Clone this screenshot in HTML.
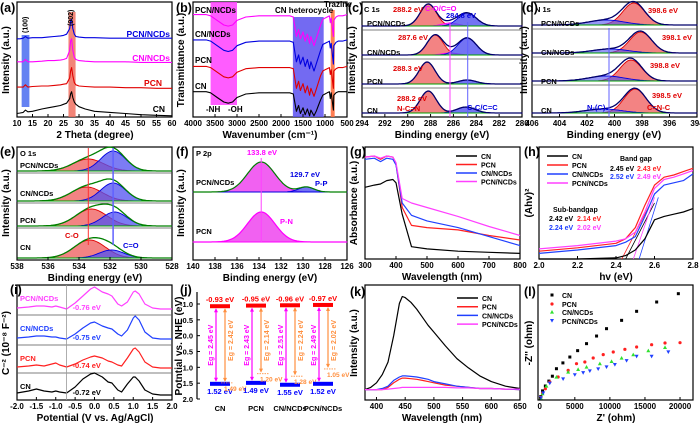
<!DOCTYPE html>
<html><head><meta charset="utf-8"><style>
html,body{margin:0;padding:0;background:#fff;}
svg{display:block;font-family:"Liberation Sans",Arial,sans-serif;font-weight:bold;}
</style></head><body>
<svg id="fig" width="700" height="424" viewBox="0 0 700 424" xmlns="http://www.w3.org/2000/svg"></svg>
<script>
// ---------- data ----------
const xrdX=[10,11,12,12.7,13.5,15,18,20,22,24,25,26,27,27.3,27.6,28,28.5,29,30,32,35,40,45,50,55,60];
const xrdCN=[3,3.5,4,6,4.5,5,7,8,9,10,11,12,16,20,22,17,13,11,9,7,5,4,3,2,1.5,1];
const xrdPCN=[26,26,26,28,26,26.5,27,27,27.5,28,28.5,29,34,40,43,36,30,28,27,26.5,26,26,25.5,25.5,25,25];
const xrdCNN=[48,48,48,50,48,48,48.5,49,49,49.5,50,51,58,66,68,58,52,50,49,48.5,48,48,48,47.5,47.5,47.5];
const xrdPCNN=[68,68,68.5,70,68.5,69,69,69.5,70,70.5,71,72,77,83,85,77,72,70,69.5,69,69,68.5,68.5,68.5,68.5,68.5];
const xrdTicks=[10,15,20,25,30,35,40,45,50,55,60];

const irX=[4000,3700,3600,3450,3300,3200,3100,3000,2800,2500,2000,1800,1720,1650,1600,1560,1500,1450,1400,1350,1320,1250,1200,1150,1100,1050,1000,950,900,880,860,810,800,750,700,600,500];
const irPCNN=[89,89,88,84,80,79,80,84,87,88,88,88,87,70,76,68,74,66,72,64,70,62,68,74,80,85,86,87,88,82,86,70,84,87,88,88,89];
const irCNN=[67,67,66,62,58,57,58,62,65,66,66,66,65,48,54,46,52,44,50,42,48,40,46,52,58,63,64,65,66,60,64,46,62,65,66,66,67];
const irPCN=[44,44,43,39,35,34,35,39,42,43,43,43,42,25,31,23,29,21,27,19,25,18,24,30,36,40,41,42,43,37,41,25,40,42,43,43,44];
const irCN=[22,22,21,17,13,12,13,17,20,21,21,21,20,5,10,3,8,2,7,1,6,1,5,10,15,19,20,21,22,16,21,6,19,21,22,22,22];
const irTicks=[4000,3500,3000,2500,2000,1500,1000,500];

const sampleNames=["PCN/NCDs","CN/NCDs","PCN","CN"];
const c1sRedPos=[288.2,287.6,288.3,288.2], c1sRedAmp=[22,20,22,22];
const c1sBluePos=[284.8,284.8,284.8,284.9], c1sBlueAmp=[13,17,4,6];
const c1sPinkPos=[286.3,286.3,286.3,286.3], c1sPinkAmp=[3,2,0,0];
const c1sTicks=[294,292,290,288,286,284,282,280];
const n1sRedPos=[398.6,398.1,398.8,398.5], n1sRedAmp=[22,21,21,24];
const n1sBluePos=[400.6,400.3,400.6,400.8], n1sBlueAmp=[5,4,5,4];
const n1sTicks=[406,404,402,400,398,396,394];
const o1sRedPos=[533.4,533.5,533.2,533.3], o1sRedAmp=[12,14,17,18];
const o1sBluePos=[531.8,531.8,531.7,531.9], o1sBlueAmp=[20,18,14,8];
const o1sTicks=[538,536,534,532,530,528];
const p2pPos=[133.8,129.7], p2pTopAmp=[30,5], p2pBotAmp=[30,0];
const p2pTicks=[140,138,136,134,132,130,128,126];

const uvX=[300,330,350,370,390,400,420,450,500,600,700,800];
const uvCN=[64,66,67,70,71,68,40,11,9,7,6,5];
const uvPCN=[91,92,89,92,91,85,46,30,28,26,21,17];
const uvCNN=[89,90,87,90,89,84,50,39,34,28,20,12];
const uvPCNN=[91,92,90,92,91,86,54,50,46,38,29,21];
const uvTicks=[300,400,500,600,700,800];

const tcX=[2.0,2.2,2.4,2.45,2.5,2.55,2.6,2.65,2.7,2.75,2.8];
const tcCN=[0,0,1,3,8,18,35,38,40,42,45];
const tcPCN=[7,10,14,18,28,48,66,73,75,78,81];
const tcCNN=[5,8,12,15,20,38,58,66,68,70,76];
const tcPCNN=[9,12,16,18,24,42,63,71,73,76,79];
const tcTicks=[2.0,2.2,2.4,2.6,2.8];

const msX=[-2,-1.7,-1.5,-1.3,-1.1,-1,-0.9,-0.72,-0.5,-0.3,-0.1,0,0.2,0.35,0.45,0.6,0.7,0.85,1.0,1.05,1.15,1.3,1.5,1.7,2];
const msPCNN=[4,5,6,6,5,6,5,3,9,16,23,25,20,18,16,8,6,10,20,21,18,8,4,3,3];
const msCNN=[4,5,6,6,5,5,4,3,8,14,19,20,16,14,13,8,6,12,24,26,22,10,4,3,3];
const msPCN=[3,4,5,4,6,7,5,3,6,10,13,14,12,9,8,5,4,12,21,22,18,8,3,2,2];
const msCN=[4,6,8,6,5,6,5,4,10,18,23,24,20,15,14,7,5,13,20,20,16,7,3,2,2];
const msFlat=["-0.76 eV","-0.75 eV","-0.74 eV","-0.72 eV"];
const msTicks=[-2,-1.5,-1,-0.5,0,0.5,1,1.5,2];

const bandNames=["CN","PCN","CN/NCDs","PCN/NCDs"];
const bandCB=[-0.93,-0.95,-0.96,-0.97];
const bandVB=[1.52,1.49,1.55,1.52];
const bandEg=[2.45,2.43,2.51,2.49];
const bandSubEg=[2.42,2.14,2.24,2.02];
const bandSub=[1.49,1.20,1.28,1.05];
const bandTicks=[-1.0,-0.5,0.0,0.5,1.0,1.5,2.0];

const plX=[380,390,400,410,420,430,440,445,450,460,470,480,490,500,520,540,560,580,600,625,650];
const plCN=[9,11,15,22,33,56,84,90,89,85,79,72,65,59,47,36,28,21,16,12,10];
const plPCN=[9,9,9,9,11,15,18,19,19,18.5,18,17,16,15,13,12,11,10,10,9.5,9];
const plCNN=[9,9,9,10,12,17,20,21,21,20.5,20,19,18,16,14,12,11,10,10,9.5,9];
const plPCNN=[9,9,9,9,9.5,10,10.5,11,11,11,11,11,11,11,11,10.5,10.5,10,10,9.5,9.5];
const plTicks=[400,450,500,550,600,650];

const eisCNx=[150,400,800,1300,1800,2380,3300,4290,5400,6670,8100,9520,11670,13810,16670,19760];
const eisCNy=[500,1300,2000,2700,3400,4470,5300,6140,7050,8050,9140,10190,11380,12670,14000,15190];
const eisPCNx=[150,400,800,1430,2620,4050,5240,6430,7620,9050,10480,12140,13810,15950,17860,20000];
const eisPCNy=[400,1000,1600,2570,3290,4240,5190,5430,6000,6480,6860,7240,7570,7900,8140,8190];
const eisCNNx=[150,400,950,2380,4050,5470,6670,8570,10240,11670,13330,15480,17860];
const eisCNNy=[300,900,2000,3290,4000,4380,4710,5190,5520,6000,6480,7050,7520];
const eisPCNNx=[150,500,1430,3330,5000,6190,7140,8330,9520,10710,12380,13810,15950,18330];
const eisPCNNy=[300,1000,2400,3000,3600,3900,4140,4430,4710,5050,5620,6240,6240,6860];
const eisTicks=[0,5000,10000,15000,20000];

// ---------- helpers ----------
const NS="http://www.w3.org/2000/svg";
const svg=document.getElementById("fig");
function el(tag,name,attrs,parent){
  const e=document.createElementNS(NS,tag);
  for(const k in attrs) e.setAttribute(k,attrs[k]);
  
  
  (parent||svg).appendChild(e);
  return e;
}
function txt(name,x,y,s,size,color,anchor,rot){
  const a={x:x,y:y,"font-size":size,fill:color||"#000","text-anchor":anchor||"start"};
  if(rot) a.transform="rotate("+rot+" "+x+" "+y+")";
  const t=el("text",name,a);
  t.textContent=s;
  return t;
}
function axes(name,x0,y0,x1,y1,xmin,xmax,ymin,ymax){
  el("rect",name+"-frame",{x:x0,y:y0,width:x1-x0,height:y1-y0,fill:"none",stroke:"#000","stroke-width":1.2});
  return {x0:x0,y0:y0,x1:x1,y1:y1,
    sx:v=>x0+(v-xmin)/(xmax-xmin)*(x1-x0),
    sy:v=>y1-(v-ymin)/(ymax-ymin)*(y1-y0)};
}
function xticks(name,ax,vals,fmt){
  vals.forEach(v=>{
    const x=ax.sx(v);
    el("line",name+"-tick",{x1:x,y1:ax.y1,x2:x,y2:ax.y1-3,stroke:"#000","stroke-width":1});
    txt(name+"-tick-label",x,ax.y1+9,fmt?fmt(v):String(v),8,"#000","middle");
  });
}
function poly(name,xs,ys,sx,sy,color,w,fill){
  let d="";
  xs.forEach((x,i)=>{d+=(i?"L":"M")+sx(x).toFixed(1)+","+sy(ys[i]).toFixed(1);});
  if(fill) d+="Z";
  return el("path",name,{d:d,fill:fill||"none",stroke:color,"stroke-width":w||1,"stroke-linejoin":"round"});
}
function gpts(c,a,s,lo,hi){
  const xs=[],ys=[];
  for(let i=0;i<=90;i++){const x=lo+(hi-lo)*i/90;xs.push(x);ys.push(a*Math.exp(-((x-c)*(x-c))/(2*s*s)));}
  return [xs,ys];
}
function gfill(name,c,a,s,lo,hi,sx,sy,fill,stroke){
  if(a<=0) return;
  const p=gpts(c,a,s,lo,hi);
  poly(name,p[0],p[1],sx,sy,stroke,0.9,fill);
}
function envelope(name,comps,lo,hi,sx,sy,color,w){
  const xs=[],ys=[];
  for(let i=0;i<=120;i++){const x=lo+(hi-lo)*i/120;let v=0;comps.forEach(c=>{v+=c[1]*Math.exp(-((x-c[0])*(x-c[0]))/(2*c[2]*c[2]));});xs.push(x);ys.push(v);}
  poly(name,xs,ys,sx,sy,color,w||1.2);
}
function ytitle(name,x,y,s){ return txt(name,x,y,s,10,"#000","middle",-90); }
function panelLabel(name,x,y,s){ return txt(name,x,y,s,12.5,"#000","start"); }

// ---------- (a) XRD ----------
{
  const ax=axes("xrd-plot",17,2,172,117,10,60,0,100);
  el("rect","band-100",{x:ax.sx(11.5),y:35,width:ax.sx(14)-ax.sx(11.5),height:72,fill:"#4a6cf0",opacity:0.85});
  el("rect","band-002",{x:ax.sx(26.6),y:12,width:ax.sx(28.9)-ax.sx(26.6),height:105,fill:"#f07060",opacity:0.85});
  poly("xrd-cn",xrdX,xrdCN,ax.sx,ax.sy,"#000",1.1);
  poly("xrd-pcn",xrdX,xrdPCN,ax.sx,ax.sy,"#e00000",1.1);
  poly("xrd-cn-ncds",xrdX,xrdCNN,ax.sx,ax.sy,"#ff00ff",1.1);
  poly("xrd-pcn-ncds",xrdX,xrdPCNN,ax.sx,ax.sy,"#0000e0",1.1);
  xticks("xrd-x",ax,xrdTicks);
  txt("label-100",ax.sx(13.4),33,"(100)",7,"#000","start",-90);
  txt("label-002",ax.sx(28.1),26,"(002)",7,"#000","start",-90);
  txt("xrd-lab-pcnncds",170,37,"PCN/NCDs",8.5,"#0000e0","end");
  txt("xrd-lab-cnncds",170,61,"CN/NCDs",8.5,"#ff00ff","end");
  txt("xrd-lab-pcn",162,86,"PCN",8.5,"#e00000","end");
  txt("xrd-lab-cn",165,112,"CN",8.5,"#000","end");
  txt("xrd-x-title",95,138,"2 Theta (degree)",10,"#000","middle");
  ytitle("xrd-y-title",9,60,"Intensity (a.u.)");
  panelLabel("panel-a",0,12,"(a)");
}
// ---------- (b) FTIR ----------
{
  const ax=axes("ftir-plot",193,2,347,117,4000,500,0,100);
  el("rect","band-nh-oh",{x:ax.sx(3600),y:2,width:ax.sx(3000)-ax.sx(3600),height:103,fill:"#ff40ff",opacity:0.85});
  el("rect","band-heterocycle",{x:ax.sx(1730),y:17,width:ax.sx(1030)-ax.sx(1730),height:100,fill:"#5a50f0",opacity:0.85});
  el("rect","band-triazine",{x:ax.sx(870),y:10,width:ax.sx(780)-ax.sx(870),height:107,fill:"#ff7040",opacity:0.9});
  poly("ftir-cn",irX,irCN,ax.sx,ax.sy,"#000",1.1);
  poly("ftir-pcn",irX,irPCN,ax.sx,ax.sy,"#e00000",1.1);
  poly("ftir-cn-ncds",irX,irCNN,ax.sx,ax.sy,"#0000e0",1.1);
  poly("ftir-pcn-ncds",irX,irPCNN,ax.sx,ax.sy,"#ff00ff",1.1);
  xticks("ftir-x",ax,irTicks);
  txt("ftir-lab-pcnncds",195,13,"PCN/NCDs",8,"#000");
  txt("ftir-lab-cnncds",195,37,"CN/NCDs",8,"#000");
  txt("ftir-lab-pcn",195,63,"PCN",8,"#000");
  txt("ftir-lab-cn",195,89,"CN",8,"#000");
  txt("ftir-nh",206,112,"-NH",8,"#000");
  txt("ftir-oh",228,112,"-OH",8,"#000");
  txt("ftir-heterocycle",275,13,"CN heterocycle",8,"#000");
  txt("ftir-triazine",324,7,"Trazine",8,"#000");
  txt("ftir-x-title",270,138,"Wavenumber (cm\u207B\u00B9)",10,"#000","middle");
  ytitle("ftir-y-title",184,60,"Transmittance (a.u.)");
  panelLabel("panel-b",176,12,"(b)");
}
// ---------- XPS generic ----------
function xps(prefix,ax,bounds,lo,hi,comps,opts){
  for(let r=0;r<4;r++){
    const base=bounds[r+1]-opts.off;
    const sy=v=>base-v;
    if(r<3) el("line",prefix+"-separator",{x1:ax.x0,y1:bounds[r+1],x2:ax.x1,y2:bounds[r+1],stroke:"#555","stroke-width":0.8});
    comps.forEach(c=>gfill(prefix+"-"+c.n+"-component",c.p[r],c.a[r],c.s,lo,hi,ax.sx,sy,c.fill,c.stroke));
    el("line",prefix+"-baseline",{x1:ax.sx(lo),y1:base,x2:ax.sx(hi),y2:base,stroke:"#00a000","stroke-width":1});
    envelope(prefix+"-envelope",comps.map(c=>[c.p[r],c.a[r],c.s]),lo,hi,ax.sx,sy,opts.env,1.3);
  }
}
// ---------- (c) C1s ----------
{
  const ax=axes("c1s-plot",362,2,522,117,294,280,0,1);
  const b=[2,30,59,88,117];
  xps("c1s",ax,b,294,280,[
    {n:"red",p:c1sRedPos,a:c1sRedAmp,s:0.7,fill:"rgba(240,100,100,0.8)",stroke:"#e00000"},
    {n:"pink",p:c1sPinkPos,a:c1sPinkAmp,s:0.7,fill:"rgba(255,80,255,0.8)",stroke:"#ff00ff"},
    {n:"blue",p:c1sBluePos,a:c1sBlueAmp,s:0.8,fill:"rgba(80,80,240,0.8)",stroke:"#0000e0"}],{off:4,env:"#00006a"});
  el("line","c1s-line-co",{x1:ax.sx(286.3),y1:22,x2:ax.sx(286.3),y2:117,stroke:"#ff40ff","stroke-width":1});
  el("line","c1s-line-cc",{x1:ax.sx(284.75),y1:22,x2:ax.sx(284.75),y2:117,stroke:"#6060ff","stroke-width":1});
  xticks("c1s-x",ax,c1sTicks);
  txt("c1s-title",364,12,"C 1s",7.5,"#000");
  txt("c1s-lab-0",367,26,"PCN/NCDs",7.5,"#000");
  txt("c1s-lab-1",367,55,"CN/NCDs",7.5,"#000");
  txt("c1s-lab-2",367,84,"PCN",7.5,"#000");
  txt("c1s-lab-3",367,113,"CN",7.5,"#000");
  txt("c1s-v0",393,12,"288.2 eV",7.5,"#e00000");
  txt("c1s-v0b",425,11,"C-O/C=O",7.5,"#ff00ff");
  txt("c1s-v0c",446,18,"284.8 eV",7.5,"#0000e0");
  txt("c1s-v1",398,40,"287.6 eV",7.5,"#e00000");
  txt("c1s-v2",393,71,"288.3 eV",7.5,"#e00000");
  txt("c1s-v3",397,101,"288.2 eV",7.5,"#e00000");
  txt("c1s-v3b",397,111,"N-C=N",7.5,"#e00000");
  txt("c1s-v3c",467,110,"C-C/C=C",7.5,"#0000e0");
  txt("c1s-x-title",442,138,"Binding energy (eV)",10,"#000","middle");
  ytitle("c1s-y-title",355,60,"Intensity (a.u.)");
  panelLabel("panel-c",348,12,"(c)");
}
// ---------- (d) N1s ----------
{
  const ax=axes("n1s-plot",532,2,697,117,406,394,0,1);
  const b=[2,29,57,85,117];
  xps("n1s",ax,b,406,394,[
    {n:"red",p:n1sRedPos,a:n1sRedAmp,s:0.8,fill:"rgba(240,100,100,0.8)",stroke:"#e00000"},
    {n:"blue",p:n1sBluePos,a:n1sBlueAmp,s:1.3,fill:"rgba(80,80,240,0.6)",stroke:"#0000e0"}],{off:4,env:"#00006a"});
  el("line","n1s-line-nc3",{x1:ax.sx(400.4),y1:28,x2:ax.sx(400.4),y2:117,stroke:"#6060ff","stroke-width":1});
  xticks("n1s-x",ax,n1sTicks);
  txt("n1s-title",535,12,"N 1s",7.5,"#000");
  txt("n1s-lab-0",541,26,"PCN/NCDs",7.5,"#000");
  txt("n1s-lab-1",541,55,"CN/NCDs",7.5,"#000");
  txt("n1s-lab-2",541,84,"PCN",7.5,"#000");
  txt("n1s-lab-3",541,113,"CN",7.5,"#000");
  txt("n1s-v0",648,13,"398.6 eV",7.5,"#e00000");
  txt("n1s-v1",662,40,"398.1 eV",7.5,"#e00000");
  txt("n1s-v2",650,68,"398.8 eV",7.5,"#e00000");
  txt("n1s-v3",652,98,"398.5 eV",7.5,"#e00000");
  txt("n1s-v3b",647,110,"C=N-C",7.5,"#e00000");
  txt("n1s-v3c",587,110,"N-(C)\u2083",7.5,"#0000e0");
  txt("n1s-x-title",614,138,"Binding energy (eV)",10,"#000","middle");
  ytitle("n1s-y-title",527,60,"Intensity (a.u.)");
  panelLabel("panel-d",522,12,"(d)");
}
// ---------- (e) O1s ----------
{
  const ax=axes("o1s-plot",17,147,172,260,538,528,0,1);
  const b=[147,173,203,228,260];
  xps("o1s",ax,b,538,528,[
    {n:"red",p:o1sRedPos,a:o1sRedAmp,s:1.0,fill:"rgba(240,100,100,0.8)",stroke:"#e00000"},
    {n:"blue",p:o1sBluePos,a:o1sBlueAmp,s:0.8,fill:"rgba(80,80,240,0.75)",stroke:"#0000e0"}],{off:2,env:"#008000"});
  el("line","o1s-line-co",{x1:ax.sx(533.4),y1:148,x2:ax.sx(533.4),y2:245,stroke:"#ff3030","stroke-width":1});
  el("line","o1s-line-c=o",{x1:ax.sx(531.8),y1:148,x2:ax.sx(531.8),y2:245,stroke:"#6060ff","stroke-width":1.5});
  xticks("o1s-x",ax,o1sTicks);
  txt("o1s-title",20,156,"O 1s",7.5,"#000");
  txt("o1s-lab-0",20,168,"PCN/NCDs",7.5,"#000");
  txt("o1s-lab-1",20,196,"CN/NCDs",7.5,"#000");
  txt("o1s-lab-2",20,223,"PCN",7.5,"#000");
  txt("o1s-lab-3",20,250,"CN",7.5,"#000");
  txt("o1s-co",65,238,"C-O",7.5,"#e00000");
  txt("o1s-c=o",123,248,"C=O",7.5,"#0000e0");
  txt("o1s-x-title",95,281,"Binding energy (eV)",10,"#000","middle");
  ytitle("o1s-y-title",9,203,"Intensity (a.u.)");
  panelLabel("panel-e",0,156,"(e)");
}
// ---------- (f) P2p ----------
{
  const ax=axes("p2p-plot",193,147,347,260,140,126,0,1);
  const bases=[192,242], amps=[p2pTopAmp,p2pBotAmp];
  for(let r=0;r<2;r++){
    const base=bases[r];const sy=v=>base-v;
    el("line","p2p-baseline",{x1:ax.x0,y1:base,x2:ax.x1,y2:base,stroke:"#4040ff","stroke-width":1});
    gfill("p2p-pn-component",p2pPos[0],amps[r][0],1.25,140,126,ax.sx,sy,"rgba(240,80,240,0.9)","#ff00ff");
    gfill("p2p-pp-component",p2pPos[1],amps[r][1],0.7,140,126,ax.sx,sy,"rgba(80,80,240,0.8)","#0000e0");
    envelope("p2p-envelope",[[p2pPos[0],amps[r][0],1.25],[p2pPos[1],amps[r][1],0.7]],140,126,ax.sx,sy,r?"#ff00ff":"#008000",1.2);
  }
  el("line","p2p-line",{x1:ax.sx(133.8),y1:158,x2:ax.sx(133.8),y2:242,stroke:"#ff40ff","stroke-width":1});
  xticks("p2p-x",ax,p2pTicks);
  txt("p2p-title",196,156,"P 2p",7.5,"#000");
  txt("p2p-peak",262,155,"133.8 eV",7.5,"#ff00ff","middle");
  txt("p2p-peak2",305,177,"129.7 eV",7.5,"#0000e0","middle");
  txt("p2p-pp",315,186,"P-P",7.5,"#0000e0");
  txt("p2p-pn",280,224,"P-N",7.5,"#ff00ff");
  txt("p2p-lab-0",196,185,"PCN/NCDs",7.5,"#000");
  txt("p2p-lab-1",196,234,"PCN",7.5,"#000");
  txt("p2p-x-title",270,281,"Binding energy (eV)",10,"#000","middle");
  ytitle("p2p-y-title",184,203,"Intensity (a.u.)");
  panelLabel("panel-f",176,156,"(f)");
}
// legend helper
function legend(prefix,x,y,dy,names,colors){
  names.forEach((n,i)=>{
    el("line",prefix+"-legend-line",{x1:x,y1:y+i*dy-3,x2:x+21,y2:y+i*dy-3,stroke:colors[i],"stroke-width":1.5});
    txt(prefix+"-legend-entry",x+25,y+i*dy,n,7,"#000");
  });
}
const legNames=["CN","PCN","CN/NCDs","PCN/NCDs"];
const legColors=["#000","#ff2020","#2040ff","#ff40ff"];
// ---------- (g) UV-vis ----------
{
  const ax=axes("uv-plot",365,147,520,259,300,800,0,100);
  poly("uv-cn",uvX,uvCN,ax.sx,ax.sy,"#000",1.2);
  poly("uv-pcn",uvX,uvPCN,ax.sx,ax.sy,"#ff2020",1.2);
  poly("uv-cn-ncds",uvX,uvCNN,ax.sx,ax.sy,"#2040ff",1.2);
  poly("uv-pcn-ncds",uvX,uvPCNN,ax.sx,ax.sy,"#ff40ff",1.2);
  xticks("uv-x",ax,uvTicks);
  legend("uv",456,159,8.5,legNames,legColors);
  txt("uv-x-title",442,280,"Wavelength (nm)",10,"#000","middle");
  ytitle("uv-y-title",357,203,"Absorbance (a.u.)");
  panelLabel("panel-g",350,156,"(g)");
}
// ---------- (h) Tauc ----------
{
  const ax=axes("tauc-plot",539,147,693,259,2.0,2.8,0,100);
  const tang=[[2.45,2.6,0,50,"#000"],[2.43,2.58,0,50,"#ff2020"],[2.52,2.62,0,55,"#2040ff"],[2.49,2.6,0,55,"#ff40ff"]];
  tang.forEach(t=>el("line","tauc-tangent",{x1:ax.sx(t[0]),y1:ax.sy(t[2]),x2:ax.sx(t[1]),y2:ax.sy(t[3]),stroke:t[4],"stroke-width":0.8}));
  poly("tauc-cn",tcX,tcCN,ax.sx,ax.sy,"#000",1.2);
  poly("tauc-pcn",tcX,tcPCN,ax.sx,ax.sy,"#ff2020",1.2);
  poly("tauc-cn-ncds",tcX,tcCNN,ax.sx,ax.sy,"#2040ff",1.2);
  poly("tauc-pcn-ncds",tcX,tcPCNN,ax.sx,ax.sy,"#ff40ff",1.2);
  xticks("tauc-x",ax,tcTicks,v=>v.toFixed(1));
  legend("tauc",547,159,9,legNames,legColors);
  txt("tauc-bg",620,161,"Band gap",7,"#000");
  txt("tauc-bg1",610,171,"2.45 eV",7,"#000");
  txt("tauc-bg2",637,171,"2.43 eV",7,"#ff2020");
  txt("tauc-bg3",610,179,"2.52 eV",7,"#2040ff");
  txt("tauc-bg4",637,179,"2.49 eV",7,"#ff40ff");
  txt("tauc-sbg",553,212,"Sub-bandgap",7,"#000");
  txt("tauc-sbg1",549,221,"2.42 eV",7,"#000");
  txt("tauc-sbg2",577,221,"2.14 eV",7,"#ff2020");
  txt("tauc-sbg3",549,230,"2.24 eV",7,"#2040ff");
  txt("tauc-sbg4",577,230,"2.02 eV",7,"#ff40ff");
  txt("tauc-x-title",616,280,"hv (eV)",10,"#000","middle");
  ytitle("tauc-y-title",532,203,"(Ahv)\u00B2");
  panelLabel("panel-h",524,156,"(h)");
}
// ---------- (i) Mott-Schottky ----------
{
  const ax=axes("ms-plot",17,285,172,400,-2,2,0,1);
  const b=[285,315,345,373,400];
  const series=[msPCNN,msCNN,msPCN,msCN], cols=["#ff40ff","#2040ff","#ff2020","#000"];
  for(let r=0;r<4;r++){
    const base=b[r+1]-3;const sy=v=>base-v;
    if(r<3) el("line","ms-separator",{x1:ax.x0,y1:b[r+1],x2:ax.x1,y2:b[r+1],stroke:"#555","stroke-width":0.8});
    poly("ms-curve",msX,series[r],ax.sx,sy,cols[r],1.2);
    txt("ms-lab",20,b[r]+16,sampleNames[r],7.5,cols[r]);
    txt("ms-flat",ax.sx(-0.2),b[r+1]-5,msFlat[r],7.5,r==3?"#000":cols[r],"middle");
  }
  el("line","ms-flatband-line",{x1:ax.sx(-0.72),y1:285,x2:ax.sx(-0.72),y2:400,stroke:"#999","stroke-width":0.8});
  xticks("ms-x",ax,msTicks,v=>v.toFixed(1));
  txt("ms-x-title",95,421,"Potential (V vs. Ag/AgCl)",10,"#000","middle");
  ytitle("ms-y-title",9,343,"C\u207B\u00B2 (10\u207B\u2078 F\u207B\u00B2)");
  panelLabel("panel-i",10,294,"(i)");
}
// ---------- (j) band structure ----------
{
  const sy=v=>304+(v-(-1.0))*31.67;
  el("line","band-y-axis",{x1:197,y1:292,x2:197,y2:399,stroke:"#000","stroke-width":1.2});
  bandTicks.forEach(v=>{
    el("line","band-y-tick",{x1:197,y1:sy(v),x2:200,y2:sy(v),stroke:"#000","stroke-width":1});
    txt("band-y-tick-label",193,sy(v)+3,v.toFixed(1),7.5,"#000","end");
  });
  const cx=[220,256,290,323];
  bandNames.forEach((n,i)=>{
    const c=cx[i];
    el("rect","band-cb-bar",{x:c-10,y:sy(bandCB[i])-2,width:20,height:4,fill:"#ff0000"});
    el("rect","band-vb-bar",{x:c-10,y:sy(bandVB[i])-2,width:20,height:4,fill:"#0000ff"});
    el("line","band-sub-level",{x1:c+1,y1:sy(bandSub[i]),x2:c+13,y2:sy(bandSub[i]),stroke:"#ff9040","stroke-width":0.8,"stroke-dasharray":"1.5,1"});
    el("line","band-eg-arrow",{x1:c-4,y1:sy(bandCB[i])+3,x2:c-4,y2:sy(bandVB[i])-3,stroke:"#ff00ff","stroke-width":1.2});
    el("path","band-eg-arrowhead",{d:`M${c-6},${sy(bandVB[i])-6}L${c-4},${sy(bandVB[i])-2}L${c-2},${sy(bandVB[i])-6}ZM${c-6},${sy(bandCB[i])+6}L${c-4},${sy(bandCB[i])+2}L${c-2},${sy(bandCB[i])+6}Z`,fill:"#ff00ff"});
    el("line","band-sub-arrow",{x1:c+5,y1:sy(bandCB[i])+3,x2:c+5,y2:sy(bandSub[i])-2,stroke:"#ff9040","stroke-width":1.2});
    el("path","band-sub-arrowhead",{d:`M${c+3},${sy(bandSub[i])-5}L${c+5},${sy(bandSub[i])-1}L${c+7},${sy(bandSub[i])-5}ZM${c+3},${sy(bandCB[i])+6}L${c+5},${sy(bandCB[i])+2}L${c+7},${sy(bandCB[i])+6}Z`,fill:"#ff9040"});
    txt("band-cb-label",c,sy(bandCB[i])-4,bandCB[i].toFixed(2)+" eV",7.5,"#ff0000","middle");
    txt("band-vb-label",c,sy(bandVB[i])+10,bandVB[i].toFixed(2)+" eV",7.5,"#0000ff","middle");
    txt("band-sub-label",c+4,sy(bandSub[i])+8,bandSub[i].toFixed(2)+" eV",6.5,"#ff9040","start");
    txt("band-eg-label",c-7,sy(0.3),"Eg = "+bandEg[i].toFixed(2)+" eV",7,"#ff00ff","middle",-90);
    txt("band-subeg-label",c+13,sy(0.15),"Eg = "+bandSubEg[i].toFixed(2)+" eV",7,"#ff9040","middle",-90);
    txt("band-sample-name",c,411,n,7.5,"#000","middle");
  });
  ytitle("band-y-title",182,346,"Potntial vs. NHE (eV)");
  panelLabel("panel-j",180,294,"(j)");
}
// ---------- (k) PL ----------
{
  const ax=axes("pl-plot",365,285,520,400,380,650,0,100);
  poly("pl-cn",plX,plCN,ax.sx,ax.sy,"#000",1.2);
  poly("pl-pcn",plX,plPCN,ax.sx,ax.sy,"#ff2020",1.2);
  poly("pl-cn-ncds",plX,plCNN,ax.sx,ax.sy,"#2040ff",1.2);
  poly("pl-pcn-ncds",plX,plPCNN,ax.sx,ax.sy,"#ff40ff",1.2);
  xticks("pl-x",ax,plTicks);
  legend("pl",457,301,8.7,legNames,legColors);
  txt("pl-x-title",442,421,"Wavelength (nm)",10,"#000","middle");
  ytitle("pl-y-title",357,343,"Intensity (a.u.)");
  panelLabel("panel-k",350,296,"(k)");
}
// ---------- (l) EIS ----------
{
  const ax=axes("eis-plot",538,285,693,400,-250,21850,0,16430);
  function pts(name,xs,ys,color,shape){
    xs.forEach((x,i)=>{
      const px=ax.sx(x),py=ax.sy(ys[i]);
      if(shape==="sq") el("rect",name,{x:px-1.5,y:py-1.5,width:3,height:3,fill:color});
      else if(shape==="c") el("circle",name,{cx:px,cy:py,r:1.6,fill:color});
      else if(shape==="up") el("path",name,{d:`M${px-2},${py+1.6}L${px+2},${py+1.6}L${px},${py-2}Z`,fill:color});
      else el("path",name,{d:`M${px-2},${py-1.6}L${px+2},${py-1.6}L${px},${py+2}Z`,fill:color});
    });
  }
  pts("eis-cn-point",eisCNx,eisCNy,"#000","sq");
  pts("eis-pcn-point",eisPCNx,eisPCNy,"#ff2020","c");
  pts("eis-cn-ncds-point",eisCNNx,eisCNNy,"#30e030","up");
  pts("eis-pcn-ncds-point",eisPCNNx,eisPCNNy,"#2040ff","dn");
  xticks("eis-x",ax,eisTicks);
  const lx=552,ly=[298,307,315,324];
  el("rect","eis-legend-cn-marker",{x:lx-1.5,y:ly[0]-4.5,width:3,height:3,fill:"#000"});
  el("circle","eis-legend-pcn-marker",{cx:lx,cy:ly[1]-3,r:1.6,fill:"#ff2020"});
  el("path","eis-legend-cnncds-marker",{d:`M${lx-2},${ly[2]-1.4}L${lx+2},${ly[2]-1.4}L${lx},${ly[2]-5}Z`,fill:"#30e030"});
  el("path","eis-legend-pcnncds-marker",{d:`M${lx-2},${ly[3]-5}L${lx+2},${ly[3]-5}L${lx},${ly[3]-1.4}Z`,fill:"#2040ff"});
  legNames.forEach((n,i)=>txt("eis-legend-entry",562,ly[i],n,7,"#000"));
  txt("eis-x-title",616,421,"Z' (ohm)",10,"#000","middle");
  ytitle("eis-y-title",532,343,"-Z'' (ohm)");
  panelLabel("panel-l",524,296,"(l)");
}
</script>
</body></html>
